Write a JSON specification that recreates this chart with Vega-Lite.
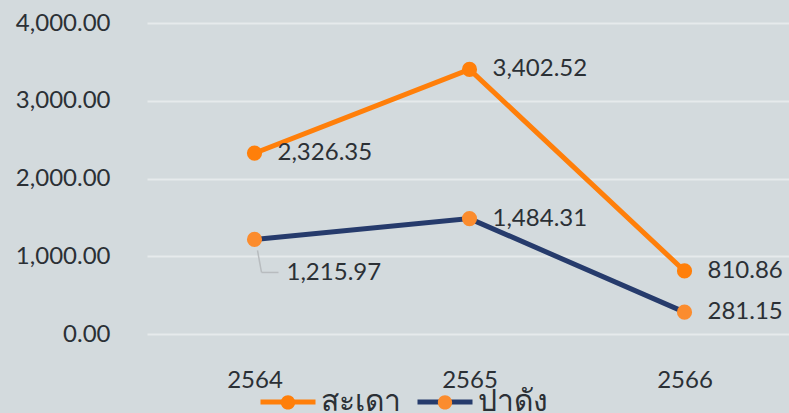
{
  "$schema": "https://vega.github.io/schema/vega-lite/v6.json",
  "autosize": {"type": "none"},
  "width": 645,
  "height": 311,
  "padding": {"left": 147, "top": 23, "right": 0, "bottom": 79},
  "background": "#d3dadd",
  "config": {
    "view": {"stroke": null},
    "font": "Lato",
    "text": {"font": "Lato"}
  },
  "data": {
    "values": [
      {"year": "2564", "site": "สะเดา", "site2": "สะเดา", "value": 2326.35},
      {"year": "2565", "site": "สะเดา", "site2": "สะเดา", "value": 3402.52},
      {"year": "2566", "site": "สะเดา", "site2": "สะเดา", "value": 810.86},
      {"year": "2564", "site": "ปาดัง", "site2": "ปาดัง", "value": 1215.97},
      {"year": "2565", "site": "ปาดัง", "site2": "ปาดัง", "value": 1484.31},
      {"year": "2566", "site": "ปาดัง", "site2": "ปาดัง", "value": 281.15}
    ]
  },
  "encoding": {
    "x": {
      "field": "year", "type": "ordinal",
      "scale": {"type": "point", "padding": 0.5},
      "axis": {
        "title": null, "labelAngle": 0, "domain": false, "ticks": false,
        "labelFontSize": 24, "labelColor": "#2b3035", "labelPadding": 34, "labelFont": "Lato"
      }
    },
    "y": {
      "field": "value", "type": "quantitative",
      "scale": {"domain": [0, 4000], "nice": false},
      "axis": {
        "title": null, "values": [0, 1000, 2000, 3000, 4000], "format": ",.2f",
        "domain": false, "ticks": false, "labelFontSize": 24, "labelColor": "#2b3035",
        "labelPadding": 37, "gridColor": "#e6eaec", "gridWidth": 2, "labelFont": "Lato"
      }
    }
  },
  "layer": [
    {
      "mark": {"type": "line", "strokeWidth": 5},
      "encoding": {
        "stroke": {
          "field": "site", "type": "nominal", "sort": "descending",
          "scale": {"range": ["#ff7f0a", "#263b6c"]},
          "legend": {
            "orient": "none", "direction": "horizontal", "title": null,
            "legendX": 111, "legendY": 349,
            "symbolType": "stroke", "symbolSize": 3025, "symbolStrokeWidth": 5,
            "labelFontSize": 30, "labelColor": "#2b3035", "labelOffset": 3,
            "columnPadding": 6, "labelFont": "Noto Sans"
          }
        }
      }
    },
    {
      "mark": {"type": "point", "filled": true, "size": 230, "opacity": 1},
      "encoding": {
        "fill": {
          "field": "site2", "type": "nominal", "sort": "descending",
          "scale": {"range": ["#ff7f0a", "#fb8c2e"]},
          "legend": {
            "orient": "none", "direction": "horizontal", "title": null,
            "legendX": 111, "legendY": 349,
            "symbolType": "M -1,0 L 1,0 M -0.26,0 A 0.26,0.26 0 1,0 0.26,0 A 0.26,0.26 0 1,0 -0.26,0 Z",
            "symbolSize": 3025, "symbolStrokeWidth": 5, "symbolStrokeColor": "transparent", "symbolOpacity": 1,
            "labelFontSize": 30, "labelColor": "transparent", "labelOffset": 3,
            "columnPadding": 6, "labelFont": "Noto Sans"
          }
        }
      }
    },
    {
      "transform": [{"filter": "datum.site == 'สะเดา' || datum.year != '2564'"}],
      "mark": {"type": "text", "align": "left", "baseline": "middle", "dx": 23, "dy": 0, "fontSize": 24, "color": "#2b3035"},
      "encoding": {"text": {"field": "value", "type": "quantitative", "format": ",.2f"}}
    },
    {
      "transform": [{"filter": "datum.site == 'ปาดัง' && datum.year == '2564'"}],
      "mark": {"type": "text", "align": "left", "baseline": "middle", "dx": 32, "dy": 34, "fontSize": 24, "color": "#2b3035"},
      "encoding": {"text": {"field": "value", "type": "quantitative", "format": ",.2f"}}
    },
    {
      "transform": [{"filter": "datum.site == 'ปาดัง' && datum.year == '2564'"}],
      "mark": {"type": "rule", "color": "#b8bcbf", "strokeWidth": 1.5, "xOffset": 3, "x2Offset": 7, "yOffset": 11, "y2Offset": 33},
      "encoding": {"x2": {"field": "year"}, "y2": {"field": "value"}}
    },
    {
      "transform": [{"filter": "datum.site == 'ปาดัง' && datum.year == '2564'"}],
      "mark": {"type": "rule", "color": "#b8bcbf", "strokeWidth": 1.5, "xOffset": 7, "x2Offset": 24, "yOffset": 33, "y2Offset": 33},
      "encoding": {"x2": {"field": "year"}, "y2": {"field": "value"}}
    }
  ]
}
